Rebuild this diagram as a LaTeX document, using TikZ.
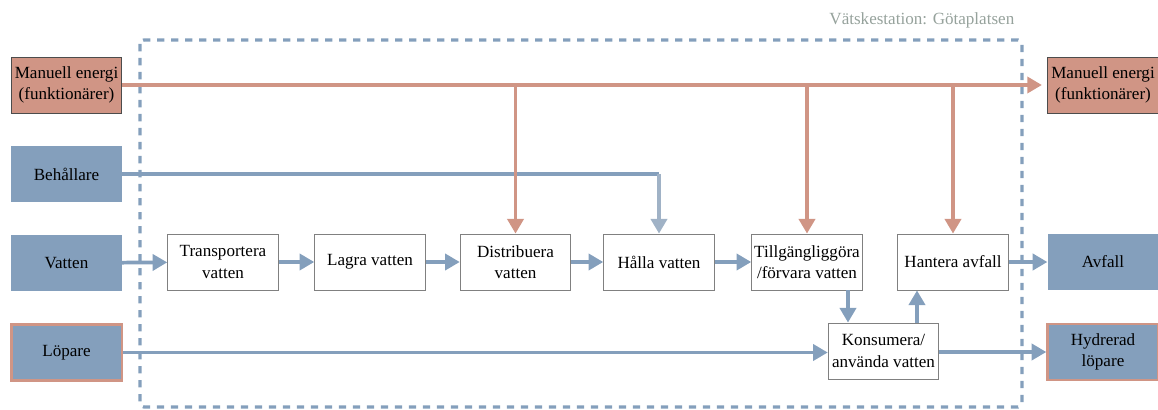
\documentclass[tikz,border=0pt]{standalone}
\usepackage{fontspec}
\setmainfont{Liberation Serif}
\usetikzlibrary{arrows.meta,positioning}
\definecolor{salmon}{RGB}{208,149,133}
\definecolor{steel}{RGB}{132,159,188}
\definecolor{lightsteel}{RGB}{160,178,198}
\definecolor{titlegray}{RGB}{150,162,156}
\tikzset{
  outer/.style={minimum width=83pt,minimum height=42pt,inner sep=1pt,align=center,
    font=\fontsize{12.8}{16}\selectfont},
  energybox/.style={outer,fill=salmon,draw=black!70,line width=0.6pt},
  bluebox/.style={outer,fill=steel},
  runnerbox/.style={outer,fill=steel,draw=salmon,line width=2pt},
  proc/.style={outer,fill=white,draw=black!50,line width=0.6pt},
  flow/.style={steel,line width=2.8pt,-{Triangle[length=11pt,width=12pt]}},
  energy/.style={salmon,line width=2.8pt,-{Triangle[length=11pt,width=12pt]}}
}
\begin{document}
\begin{tikzpicture}[x=0.75pt,y=-0.75pt]
\useasboundingbox (0,0) rectangle (1158,410);
% system border
\draw[steel,line width=2.5pt,dash pattern=on 5.5pt off 5pt,rounded corners=3pt] (140,40) rectangle (1022,407);
\node[anchor=east,text=titlegray,font=\fontsize{12.8}{15}\selectfont] (title) at (1019,20) {Vätskestation: Götaplatsen};
% inputs
\node[energybox] (mein) at (66.5,85) {Manuell energi\\(funktionärer)};
\node[bluebox] (beh) at (66.5,174) {Behållare};
\node[bluebox] (vin) at (66.5,263) {Vatten};
\node[runnerbox] (lop) at (66.5,352.5) {Löpare};
% outputs
\node[energybox] (meout) at (1103,85) {Manuell energi\\(funktionärer)};
\node[bluebox] (avf) at (1103,262) {Avfall};
\node[runnerbox] (hyd) at (1103,352) {Hydrerad\\löpare};
% functions
\node[proc] (trans) at (223,262) {Transportera\\vatten};
\node[proc] (lagra) at (370,262) {Lagra vatten};
\node[proc] (dist) at (515.5,262) {Distribuera\\vatten};
\node[proc] (halla) at (659,262) {Hålla vatten};
\node[proc] (tillg) at (807,262) {Tillgängliggöra\\/förvara vatten};
\node[proc] (hant) at (953,262) {Hantera avfall};
\node[proc] (kons) at (883.5,351) {Konsumera/\\använda vatten};
% flows
\draw[flow] (vin) -- (trans);
\draw[flow] (trans) -- (lagra);
\draw[flow] (lagra) -- (dist);
\draw[flow] (dist) -- (halla);
\draw[flow] (halla) -- (tillg);
\draw[flow] (tillg.south -| 848,0) -- (kons.north -| 848,0);
\draw[flow] (kons.north -| 917,0) -- (hant.south -| 917,0);
\draw[flow] (hant) -- (avf);
\draw[flow] (lop) -- (lop -| kons.west);
\draw[flow] (kons.east |- hyd) -- (hyd);
\draw[steel,line width=2.8pt] (beh.east) -- (beh.east -| halla.north);
\draw[lightsteel,line width=2.8pt,-{Triangle[length=11pt,width=12pt]}] (beh.east -| halla.north) -- (halla.north);
% energy
\draw[energy] (mein) -- ([xshift=-4pt]meout.west);
\draw[energy] (dist.north |- mein) -- (dist.north);
\draw[energy] (tillg.north |- mein) -- (tillg.north);
\draw[energy] (hant.north |- mein) -- (hant.north);
\end{tikzpicture}
\end{document}
